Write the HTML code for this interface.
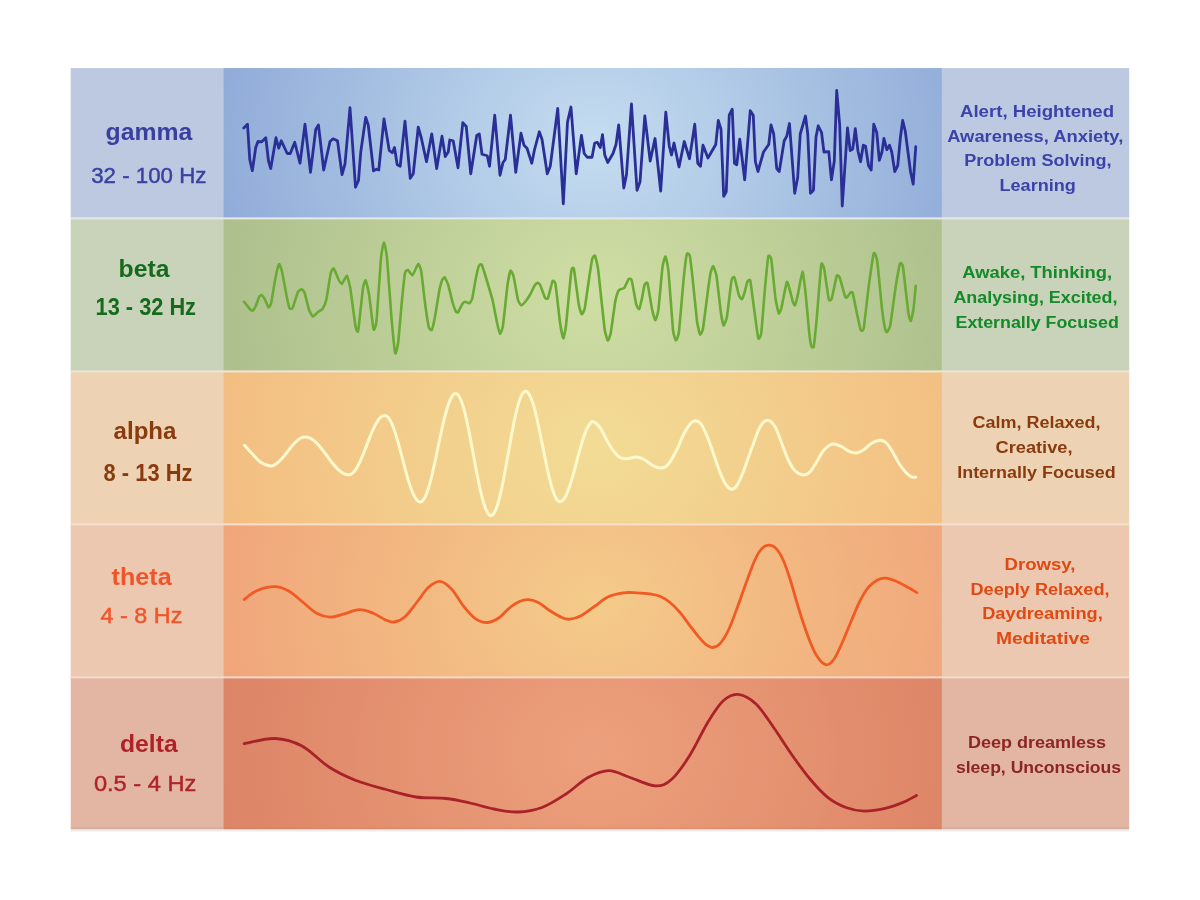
<!DOCTYPE html>
<html><head><meta charset="utf-8"><title>Brain waves</title>
<style>html,body{margin:0;padding:0;background:#fff;}body{width:1200px;height:900px;position:relative;overflow:hidden;font-family:"Liberation Sans",sans-serif;}</style></head>
<body>
<svg width="1200" height="900" viewBox="0 0 1200 900" style="position:absolute;left:0;top:0">
<defs>
<radialGradient id="g_gamma" gradientUnits="userSpaceOnUse" cx="0" cy="0" r="1" gradientTransform="translate(594.7,143.2) scale(385,330)"><stop offset="0" stop-color="#C5DDF0"/><stop offset="1" stop-color="#90ABD8"/></radialGradient>
<radialGradient id="g_beta" gradientUnits="userSpaceOnUse" cx="0" cy="0" r="1" gradientTransform="translate(594.7,294.9) scale(385,330)"><stop offset="0" stop-color="#CFDEA4"/><stop offset="1" stop-color="#ACBF8C"/></radialGradient>
<radialGradient id="g_alpha" gradientUnits="userSpaceOnUse" cx="0" cy="0" r="1" gradientTransform="translate(594.7,447.9) scale(385,330)"><stop offset="0" stop-color="#F2DC95"/><stop offset="1" stop-color="#F3BD82"/></radialGradient>
<radialGradient id="g_theta" gradientUnits="userSpaceOnUse" cx="0" cy="0" r="1" gradientTransform="translate(594.7,600.9) scale(385,330)"><stop offset="0" stop-color="#F4CB8A"/><stop offset="1" stop-color="#F0A57A"/></radialGradient>
<radialGradient id="g_delta" gradientUnits="userSpaceOnUse" cx="0" cy="0" r="1" gradientTransform="translate(594.7,753.5) scale(385,330)"><stop offset="0" stop-color="#EDA07C"/><stop offset="1" stop-color="#DC8466"/></radialGradient>
<filter id="softw" x="-2%" y="-5%" width="104%" height="110%" filterUnits="objectBoundingBox"><feGaussianBlur stdDeviation="0.6"/></filter>
<filter id="soft" x="-2%" y="-2%" width="104%" height="104%" filterUnits="objectBoundingBox"><feGaussianBlur stdDeviation="0.45"/></filter>
</defs>
<g filter="url(#soft)">
<rect x="70.7" y="68.1" width="1058.5" height="150.30" fill="#BCC9E1"/>
<rect x="223.6" y="68.1" width="718.1999999999999" height="150.30" fill="url(#g_gamma)"/>
<rect x="70.7" y="218.4" width="1058.5" height="153.00" fill="#C8D3BA"/>
<rect x="223.6" y="218.4" width="718.1999999999999" height="153.00" fill="url(#g_beta)"/>
<rect x="70.7" y="371.4" width="1058.5" height="153.00" fill="#EDD3B4"/>
<rect x="223.6" y="371.4" width="718.1999999999999" height="153.00" fill="url(#g_alpha)"/>
<rect x="70.7" y="524.4" width="1058.5" height="153.00" fill="#EBC8AF"/>
<rect x="223.6" y="524.4" width="718.1999999999999" height="153.00" fill="url(#g_theta)"/>
<rect x="70.7" y="677.4" width="1058.5" height="152.20" fill="#E3B5A3"/>
<rect x="223.6" y="677.4" width="718.1999999999999" height="152.20" fill="url(#g_delta)"/>
<rect x="70.7" y="217.40" width="1058.5" height="2.0" fill="#E6E9EA"/>
<rect x="70.7" y="370.40" width="1058.5" height="2.0" fill="#EFE6D8"/>
<rect x="70.7" y="523.40" width="1058.5" height="2.0" fill="#F7DFCF"/>
<rect x="70.7" y="676.40" width="1058.5" height="2.0" fill="#F3D9CC"/>
<rect x="70.7" y="827.3" width="1058.5" height="2.2" fill="#8a7f7f" fill-opacity="0.13"/>
<rect x="70.7" y="829.4" width="1058.5" height="2.1" fill="#EEEBEB"/>
</g>
<g fill="none" stroke-linecap="round" stroke-linejoin="round" stroke-width="2.5" filter="url(#softw)">
<path d="M243.75 128.00L247.50 124.25L249.75 159.50L252.30 170.75L255.75 147.50L258.00 141.50L261.75 141.80L265.80 137.75L268.50 161.00L270.75 168.50L276.00 137.75L278.70 148.25L281.25 140.75L287.25 153.50L290.25 153.50L294.75 142.25L300.00 163.25L305.00 124.25L310.50 172.25L315.75 129.50L318.45 125.00L323.70 170.00L330.00 141.50L333.00 138.80L337.50 140.75L342.00 174.50L345.00 164.00L350.00 107.75L355.50 187.25L358.50 180.50L360.75 152.00L365.70 117.50L368.25 125.00L373.50 170.75L376.50 169.25L378.75 170.00L384.00 119.00L389.25 150.50L392.25 152.75L394.50 147.50L397.20 164.75L400.20 166.25L405.00 121.25L410.25 178.25L413.25 173.75L418.25 127.25L421.25 137.75L426.50 161.75L431.75 134.00L436.70 168.50L442.00 136.25L445.25 156.50L448.25 152.00L449.75 140.00L453.20 140.75L458.00 167.75L462.80 122.75L466.25 126.50L470.75 173.75L476.75 135.50L479.30 134.00L482.00 154.25L487.25 155.75L489.50 166.25L494.75 115.25L500.00 175.25L503.00 162.50L505.25 159.50L510.50 115.25L515.75 172.25L521.00 133.25L524.00 145.25L527.00 148.25L531.80 163.25L534.50 149.75L539.30 131.75L542.00 139.25L547.25 173.75L550.25 166.25L557.75 108.50L563.30 203.75L567.50 122.00L570.95 107.00L576.20 173.75L581.45 135.50L584.20 153.50L587.20 157.25L592.00 157.25L594.70 143.00L597.25 142.25L600.25 147.50L602.50 134.75L604.75 155.00L607.75 162.50L613.00 153.50L616.00 144.50L618.70 125.00L623.80 188.00L626.50 174.50L631.45 104.00L637.00 190.25L640.00 182.00L644.80 116.00L650.20 161.00L655.00 138.50L660.70 191.00L665.80 112.25L669.25 146.00L671.50 155.00L674.00 143.00L679.00 167.00L684.25 141.50L689.50 158.75L694.75 124.25L697.75 163.25L700.45 166.25L703.00 145.25L707.95 158.00L715.75 144.50L718.30 120.50L721.00 129.50L723.70 196.25L726.25 191.75L729.25 115.25L732.25 109.25L734.50 163.25L736.75 164.75L739.75 139.25L744.70 179.75L750.25 110.75L753.25 115.25L755.40 161.75L757.95 171.50L763.50 152.00L768.75 144.50L771.00 125.00L773.70 134.00L776.70 168.50L779.25 171.50L784.20 140.75L786.75 136.25L789.45 123.50L794.70 193.25L797.70 177.50L800.25 134.00L805.50 116.00L807.75 134.00L810.45 193.25L813.45 190.25L816.00 137.00L818.25 125.75L821.55 132.50L823.95 152.00L828.75 151.70L831.45 179.75L834.30 161.00L836.70 90.50L839.70 125.00L842.25 206.00L847.50 128.00L850.20 150.50L852.75 149.00L855.30 128.75L858.00 151.25L860.55 161.75L863.25 145.25L865.50 146.00L868.50 165.50L871.20 170.00L873.75 124.25L876.75 132.50L879.30 160.25L882.00 152.00L883.95 138.50L886.80 149.75L889.50 145.25L891.75 152.00L894.75 171.50L897.75 165.50L900.45 137.00L902.70 120.50L905.25 131.00L910.50 171.50L913.20 184.25L915.75 146.75" stroke="#2B2E97" stroke-width="2.8"/>
<path d="M244.20 301.80C244.61 302.33 249.12 308.36 249.75 309.00C250.38 309.64 252.31 310.72 252.75 310.50C253.19 310.28 255.25 307.05 255.75 306.00C256.25 304.95 259.06 297.04 259.50 296.25C259.94 295.46 261.37 294.98 261.75 295.20C262.13 295.42 264.25 298.35 264.75 299.25C265.25 300.15 268.03 307.23 268.50 307.50C268.97 307.77 270.70 305.09 271.20 303.00C271.69 300.91 274.68 281.86 275.25 279.00C275.82 276.14 278.50 264.55 279.00 264.00C279.50 263.45 281.45 269.19 282.00 271.50C282.55 273.81 285.95 292.81 286.50 295.50C287.05 298.19 289.06 307.31 289.50 308.25C289.94 309.19 291.89 309.40 292.50 308.25C293.11 307.10 297.09 293.90 297.75 292.50C298.41 291.10 301.00 289.20 301.50 289.20C302.00 289.20 303.95 290.99 304.50 292.50C305.05 294.01 308.39 307.99 309.00 309.75C309.61 311.51 312.09 316.33 312.75 316.50C313.41 316.67 317.29 312.55 318.00 312.00C318.71 311.45 321.89 309.88 322.50 309.00C323.11 308.12 325.64 302.64 326.25 300.00C326.86 297.36 330.20 275.31 330.75 273.00C331.30 270.69 333.14 267.95 333.75 268.50C334.36 269.05 338.39 279.38 339.00 280.50C339.61 281.62 341.43 284.15 342.00 283.80C342.57 283.45 346.19 275.39 346.80 275.70C347.41 276.01 349.61 284.29 350.25 288.00C350.89 291.71 354.92 323.12 355.50 326.25C356.08 329.38 357.65 333.56 358.20 330.75C358.75 327.94 362.45 291.69 363.00 288.00C363.55 284.31 365.26 280.06 365.70 280.50C366.14 280.94 368.43 290.43 369.00 294.00C369.57 297.57 372.95 327.27 373.50 329.25C374.05 331.23 375.95 326.23 376.50 321.00C377.05 315.77 380.45 263.77 381.00 258.00C381.55 252.22 383.56 242.25 384.00 242.25C384.44 242.25 386.45 252.44 387.00 258.00C387.55 263.56 390.89 311.01 391.50 318.00C392.11 324.99 394.75 351.49 395.25 353.25C395.75 355.01 397.75 345.90 398.25 342.00C398.75 338.10 401.50 305.06 402.00 300.00C402.50 294.94 404.56 275.20 405.00 273.00C405.44 270.80 407.45 269.83 408.00 270.00C408.55 270.17 411.75 275.69 412.50 275.25C413.25 274.81 417.61 264.27 418.25 264.00C418.89 263.73 420.75 268.64 421.25 271.50C421.75 274.36 424.45 298.93 425.00 303.00C425.55 307.07 428.25 325.02 428.75 327.00C429.25 328.98 431.31 330.66 431.75 330.00C432.19 329.34 434.20 320.86 434.75 318.00C435.30 315.14 438.70 293.81 439.25 291.00C439.80 288.19 441.84 280.74 442.25 279.75C442.66 278.76 444.36 277.12 444.80 277.50C445.24 277.88 447.67 283.13 448.25 285.00C448.83 286.87 452.20 301.07 452.75 303.00C453.30 304.93 455.37 310.57 455.75 311.25C456.13 311.93 457.50 312.85 458.00 312.30C458.50 311.75 461.97 304.52 462.50 303.75C463.03 302.98 464.70 301.83 465.20 301.80C465.69 301.77 468.73 303.54 469.25 303.30C469.77 303.06 471.75 300.39 472.25 298.50C472.75 296.61 475.50 279.92 476.00 277.50C476.50 275.08 478.58 266.44 479.00 265.50C479.42 264.56 481.26 264.09 481.70 264.75C482.14 265.41 484.21 271.92 485.00 274.50C485.79 277.08 491.62 296.48 492.50 300.00C493.38 303.52 496.45 320.02 497.00 322.50C497.55 324.98 499.56 333.53 500.00 333.75C500.44 333.97 502.45 329.07 503.00 325.50C503.55 321.93 506.95 289.01 507.50 285.00C508.05 280.99 510.06 271.41 510.50 270.75C510.94 270.09 512.95 273.86 513.50 276.00C514.05 278.14 517.43 297.86 518.00 300.00C518.57 302.14 520.75 305.14 521.30 305.25C521.85 305.36 524.86 302.27 525.50 301.50C526.14 300.73 529.34 295.90 530.00 294.75C530.66 293.60 533.95 286.63 534.50 285.75C535.05 284.87 537.08 282.81 537.50 282.75C537.92 282.69 539.65 283.90 540.20 285.00C540.75 286.10 544.43 296.78 545.00 297.75C545.57 298.72 547.45 299.41 548.00 298.20C548.55 296.99 551.95 282.27 552.50 281.25C553.05 280.23 554.95 281.23 555.50 284.25C556.05 287.27 559.43 318.54 560.00 322.50C560.57 326.46 562.86 338.03 563.30 338.25C563.74 338.47 565.42 330.39 566.00 325.50C566.58 320.61 570.67 275.62 571.25 271.50C571.83 267.38 573.40 266.83 573.95 269.25C574.50 271.67 578.18 301.20 578.75 304.50C579.32 307.80 581.31 313.98 581.75 314.25C582.19 314.52 584.22 310.83 584.75 308.25C585.28 305.67 588.45 282.63 589.00 279.00C589.55 275.37 591.86 260.45 592.30 258.75C592.74 257.05 594.58 255.03 595.00 255.75C595.42 256.46 597.50 265.04 598.00 268.50C598.50 271.96 601.25 298.49 601.75 303.00C602.25 307.51 604.31 327.25 604.75 330.00C605.19 332.75 607.31 340.28 607.75 340.50C608.19 340.72 610.20 335.86 610.75 333.00C611.30 330.14 614.70 304.58 615.25 301.50C615.80 298.42 617.87 291.90 618.25 291.00C618.63 290.10 620.06 289.42 620.50 289.20C620.94 288.98 623.64 288.75 624.25 288.00C624.86 287.25 628.20 279.55 628.75 279.00C629.30 278.45 631.20 278.63 631.75 280.50C632.30 282.37 635.70 302.41 636.25 304.50C636.80 306.59 638.81 309.55 639.25 309.00C639.69 308.45 641.87 298.76 642.25 297.00C642.63 295.24 644.12 286.01 644.50 285.00C644.88 283.99 646.95 281.44 647.50 283.20C648.05 284.96 651.43 306.28 652.00 309.00C652.57 311.72 654.84 320.14 655.30 320.25C655.76 320.36 657.77 314.40 658.30 310.50C658.83 306.60 661.97 270.96 662.50 267.00C663.03 263.04 665.06 256.17 665.50 256.50C665.94 256.83 667.95 266.11 668.50 271.50C669.05 276.89 672.45 324.94 673.00 330.00C673.55 335.06 675.56 340.39 676.00 340.50C676.44 340.61 678.45 335.90 679.00 331.50C679.55 327.10 682.93 286.17 683.50 280.50C684.07 274.83 686.34 256.06 686.80 254.25C687.26 252.44 689.38 254.04 689.80 255.75C690.22 257.45 691.97 272.71 692.50 277.50C693.03 282.29 696.45 316.82 697.00 321.00C697.55 325.18 699.56 333.95 700.00 334.50C700.44 335.05 702.45 331.47 703.00 328.50C703.55 325.53 706.95 298.07 707.50 294.00C708.05 289.93 710.08 275.04 710.50 273.00C710.92 270.96 712.76 266.03 713.20 266.25C713.64 266.47 715.93 272.54 716.50 276.00C717.07 279.46 720.47 309.87 721.00 313.50C721.53 317.13 723.26 325.28 723.70 325.50C724.14 325.72 726.43 319.80 727.00 316.50C727.57 313.20 730.95 283.36 731.50 280.50C732.05 277.64 733.95 276.40 734.50 277.50C735.05 278.60 738.45 293.90 739.00 295.50C739.55 297.10 741.56 299.58 742.00 299.25C742.44 298.92 744.62 292.26 745.00 291.00C745.38 289.74 746.87 282.77 747.25 282.00C747.63 281.23 749.76 278.63 750.25 280.50C750.74 282.37 753.31 303.26 753.90 307.50C754.49 311.74 757.71 336.38 758.25 338.25C758.79 340.12 760.75 336.69 761.25 333.00C761.75 329.31 764.48 293.61 765.00 288.00C765.52 282.39 767.84 258.59 768.30 256.50C768.76 254.41 770.77 256.42 771.30 259.50C771.83 262.58 774.95 294.54 775.50 298.50C776.05 302.46 778.36 312.84 778.80 313.50C779.24 314.16 780.92 309.81 781.50 307.50C782.08 305.19 786.18 283.43 786.75 282.00C787.32 280.57 788.86 286.57 789.30 288.00C789.74 289.43 792.33 300.24 792.75 301.50C793.17 302.76 794.62 305.80 795.00 305.25C795.38 304.70 797.45 296.48 798.00 294.00C798.55 291.52 801.95 271.61 802.50 271.50C803.05 271.39 805.00 287.99 805.50 292.50C806.00 297.01 808.83 329.10 809.25 333.00C809.67 336.90 810.87 344.76 811.20 345.75C811.53 346.74 813.34 348.54 813.75 346.50C814.16 344.46 816.20 324.00 816.75 318.00C817.30 312.00 820.70 268.32 821.25 264.75C821.80 261.18 823.70 266.72 824.25 269.25C824.80 271.78 828.20 297.11 828.75 299.25C829.30 301.39 831.17 300.20 831.75 298.50C832.33 296.80 836.12 277.54 836.70 276.00C837.28 274.46 839.07 275.96 839.70 277.50C840.33 279.04 844.68 295.59 845.25 297.00C845.82 298.41 847.12 297.03 847.50 296.70C847.88 296.37 850.12 292.75 850.50 292.50C850.88 292.25 852.25 291.60 852.75 293.25C853.25 294.90 856.67 312.31 857.25 315.00C857.83 317.69 860.23 329.01 860.70 330.00C861.17 330.99 863.13 331.58 863.70 328.50C864.27 325.42 867.76 293.50 868.50 288.00C869.24 282.50 873.11 255.48 873.75 253.50C874.39 251.52 876.60 256.93 877.20 261.00C877.81 265.07 881.43 304.05 882.00 309.00C882.57 313.95 884.65 326.80 885.00 328.50C885.35 330.20 886.41 332.47 886.80 332.25C887.18 332.03 889.61 328.75 890.25 325.50C890.89 322.25 894.78 292.53 895.50 288.00C896.22 283.47 899.45 265.24 900.00 263.70C900.55 262.16 902.39 263.46 903.00 267.00C903.61 270.54 907.68 308.04 908.25 312.00C908.82 315.96 910.41 321.22 910.80 321.00C911.18 320.78 913.14 311.58 913.50 309.00C913.86 306.42 915.59 287.45 915.75 285.75" stroke="#68AA32" stroke-width="2.6"/>
<path d="M244.50 445.25C245.75 446.62 249.25 450.62 252.00 453.50C254.75 456.38 258.00 460.42 261.00 462.50C264.00 464.58 267.91 465.53 270.00 466.00C272.09 466.47 272.35 465.75 273.52 465.29C274.70 464.83 275.88 464.11 277.05 463.23C278.23 462.35 279.40 461.23 280.57 460.02C281.75 458.81 282.93 457.40 284.10 455.98C285.28 454.56 286.45 452.99 287.62 451.50C288.80 450.01 289.97 448.44 291.15 447.02C292.32 445.60 293.50 444.19 294.68 442.98C295.85 441.77 297.02 440.65 298.20 439.77C299.38 438.89 300.55 438.17 301.73 437.71C302.90 437.25 303.94 436.96 305.25 437.00C306.56 437.04 308.15 437.32 309.60 437.93C311.05 438.53 312.50 439.47 313.95 440.61C315.40 441.75 316.85 443.22 318.30 444.79C319.75 446.37 321.20 448.21 322.65 450.06C324.10 451.91 325.55 453.95 327.00 455.90C328.45 457.85 329.90 459.89 331.35 461.74C332.80 463.59 334.25 465.43 335.70 467.01C337.15 468.58 338.60 470.05 340.05 471.19C341.50 472.33 342.95 473.27 344.40 473.87C345.85 474.48 347.43 474.89 348.75 474.80C350.07 474.71 351.15 474.29 352.35 473.35C353.55 472.40 354.75 470.93 355.95 469.13C357.15 467.33 358.35 465.03 359.55 462.56C360.75 460.08 361.95 457.19 363.15 454.28C364.35 451.37 365.55 448.16 366.75 445.10C367.95 442.04 369.15 438.83 370.35 435.92C371.55 433.01 372.75 430.12 373.95 427.64C375.15 425.17 376.35 422.87 377.55 421.07C378.75 419.27 379.95 417.80 381.15 416.85C382.35 415.91 383.56 415.29 384.75 415.40C385.94 415.51 387.11 416.14 388.30 417.52C389.48 418.90 390.66 421.05 391.84 423.67C393.02 426.29 394.20 429.64 395.38 433.25C396.57 436.86 397.75 441.08 398.93 445.32C400.11 449.56 401.29 454.24 402.48 458.70C403.66 463.16 404.84 467.84 406.02 472.08C407.20 476.32 408.38 480.54 409.56 484.15C410.75 487.76 411.93 491.11 413.11 493.73C414.29 496.35 415.47 498.50 416.65 499.88C417.84 501.26 419.02 502.09 420.20 502.00C421.38 501.91 422.57 501.07 423.75 499.34C424.93 497.62 426.12 494.92 427.30 491.64C428.48 488.35 429.67 484.16 430.85 479.64C432.03 475.12 433.22 469.83 434.40 464.51C435.58 459.20 436.77 453.34 437.95 447.75C439.13 442.16 440.32 436.30 441.50 430.99C442.68 425.67 443.87 420.38 445.05 415.86C446.23 411.34 447.42 407.15 448.60 403.86C449.78 400.58 450.97 397.88 452.15 396.16C453.33 394.43 454.52 393.44 455.70 393.50C456.88 393.56 458.05 394.54 459.23 396.49C460.41 398.43 461.58 401.46 462.76 405.16C463.94 408.86 465.11 413.58 466.29 418.67C467.47 423.75 468.64 429.70 469.82 435.68C471.00 441.67 472.17 448.26 473.35 454.55C474.53 460.84 475.70 467.43 476.88 473.42C478.06 479.40 479.23 485.35 480.41 490.43C481.59 495.52 482.76 500.24 483.94 503.94C485.12 507.64 486.29 510.67 487.47 512.61C488.65 514.56 489.84 515.61 491.00 515.60C492.16 515.59 493.30 514.54 494.45 512.56C495.60 510.58 496.75 507.49 497.90 503.73C499.05 499.97 500.20 495.16 501.35 489.98C502.50 484.80 503.65 478.74 504.80 472.66C505.95 466.57 507.10 459.85 508.25 453.45C509.40 447.05 510.55 440.33 511.70 434.24C512.85 428.16 514.00 422.10 515.15 416.92C516.30 411.74 517.45 406.93 518.60 403.17C519.75 399.41 520.90 396.32 522.05 394.34C523.20 392.36 524.35 391.36 525.50 391.30C526.65 391.24 527.80 392.25 528.95 394.00C530.10 395.76 531.25 398.51 532.40 401.85C533.55 405.20 534.70 409.47 535.85 414.07C537.00 418.68 538.15 424.06 539.30 429.48C540.45 434.89 541.60 440.86 542.75 446.55C543.90 452.24 545.05 458.21 546.20 463.62C547.35 469.04 548.50 474.42 549.65 479.03C550.80 483.63 551.95 487.90 553.10 491.25C554.25 494.59 555.40 497.34 556.55 499.10C557.70 500.85 558.87 501.68 560.00 501.80C561.13 501.92 562.22 501.11 563.33 499.84C564.44 498.57 565.55 496.58 566.66 494.15C567.77 491.73 568.88 488.63 569.99 485.29C571.10 481.95 572.21 478.05 573.32 474.13C574.43 470.20 575.54 465.88 576.65 461.75C577.76 457.62 578.87 453.30 579.98 449.37C581.09 445.45 582.20 441.55 583.31 438.21C584.42 434.87 585.53 431.77 586.64 429.35C587.75 426.92 588.86 424.93 589.97 423.66C591.08 422.39 591.63 421.06 593.30 421.70C594.97 422.34 597.77 424.45 600.00 427.50C602.23 430.55 604.48 436.12 606.70 440.00C608.92 443.88 611.08 447.88 613.30 450.80C615.52 453.72 617.77 456.17 620.00 457.50C622.23 458.83 624.48 458.80 626.70 458.80C628.92 458.80 631.37 457.77 633.30 457.50C635.23 457.23 636.35 456.78 638.30 457.20C640.25 457.62 642.50 458.57 645.00 460.00C647.50 461.43 650.52 464.47 653.30 465.80C656.08 467.13 659.20 468.27 661.70 468.00C664.20 467.73 665.80 467.20 668.30 464.20C670.80 461.20 674.20 454.87 676.70 450.00C679.20 445.13 681.08 439.30 683.30 435.00C685.52 430.70 687.92 426.57 690.00 424.20C692.08 421.83 693.85 420.67 695.80 420.80C697.75 420.93 699.62 421.93 701.70 425.00C703.78 428.07 706.08 433.65 708.30 439.20C710.52 444.75 712.77 452.05 715.00 458.30C717.23 464.55 719.75 472.12 721.70 476.70C723.65 481.28 725.03 483.72 726.70 485.80C728.37 487.88 730.03 489.20 731.70 489.20C733.37 489.20 734.77 488.72 736.70 485.80C738.63 482.88 740.80 477.95 743.30 471.70C745.80 465.45 748.92 455.75 751.70 448.30C754.48 440.85 757.37 431.67 760.00 427.00C762.63 422.33 765.00 420.35 767.50 420.30C770.00 420.25 772.63 422.87 775.00 426.70C777.37 430.53 779.48 437.75 781.70 443.30C783.92 448.85 786.08 455.42 788.30 460.00C790.52 464.58 792.50 468.30 795.00 470.80C797.50 473.30 800.80 474.85 803.30 475.00C805.80 475.15 807.77 473.92 810.00 471.70C812.23 469.48 814.48 465.18 816.70 461.70C818.92 458.22 821.08 453.58 823.30 450.80C825.52 448.02 828.05 446.10 830.00 445.00C831.95 443.90 833.05 443.92 835.00 444.20C836.95 444.48 839.48 445.60 841.70 446.70C843.92 447.80 845.95 449.75 848.30 450.80C850.65 451.85 853.30 453.13 855.80 453.00C858.30 452.87 860.65 451.62 863.30 450.00C865.95 448.38 868.92 444.92 871.70 443.30C874.48 441.68 877.50 440.30 880.00 440.30C882.50 440.30 884.48 441.13 886.70 443.30C888.92 445.47 891.08 449.68 893.30 453.30C895.52 456.92 897.77 461.67 900.00 465.00C902.23 468.33 904.75 471.30 906.70 473.30C908.65 475.30 910.18 476.35 911.70 477.00C913.22 477.65 915.12 477.17 915.80 477.20" stroke="#FEF9CC" stroke-width="3"/>
<path d="M244.20 599.50C246.28 598.05 251.70 592.93 256.70 590.80C261.70 588.67 268.93 586.70 274.20 586.70C279.47 586.70 283.45 588.17 288.30 590.80C293.15 593.43 298.57 598.75 303.30 602.50C308.03 606.25 312.25 610.85 316.70 613.30C321.15 615.75 325.57 617.05 330.00 617.20C334.43 617.35 338.43 615.45 343.30 614.20C348.17 612.95 354.20 609.85 359.20 609.70C364.20 609.55 369.00 611.63 373.30 613.30C377.60 614.97 381.52 618.25 385.00 619.70C388.48 621.15 390.87 622.50 394.20 622.00C397.53 621.50 401.25 619.95 405.00 616.70C408.75 613.45 412.82 607.37 416.70 602.50C420.58 597.63 424.42 591.03 428.30 587.50C432.18 583.97 436.10 581.02 440.00 581.30C443.90 581.58 447.82 585.12 451.70 589.20C455.58 593.28 459.42 600.95 463.30 605.80C467.18 610.65 471.10 615.52 475.00 618.30C478.90 621.08 482.82 622.50 486.70 622.50C490.58 622.50 494.42 620.80 498.30 618.30C502.18 615.80 506.38 610.33 510.00 607.50C513.62 604.67 516.95 602.60 520.00 601.30C523.05 600.00 525.25 599.50 528.30 599.70C531.35 599.90 534.68 600.65 538.30 602.50C541.92 604.35 546.10 608.30 550.00 610.80C553.90 613.30 558.37 616.10 561.70 617.50C565.03 618.90 566.70 619.53 570.00 619.20C573.30 618.87 577.33 617.70 581.50 615.50C585.67 613.30 590.53 609.12 595.00 606.00C599.47 602.88 603.58 599.00 608.30 596.80C613.02 594.60 618.57 593.47 623.30 592.80C628.03 592.13 632.25 592.63 636.70 592.80C641.15 592.97 646.12 593.22 650.00 593.80C653.88 594.38 656.67 594.85 660.00 596.30C663.33 597.75 666.67 599.80 670.00 602.50C673.33 605.20 676.67 608.62 680.00 612.50C683.33 616.38 686.67 621.50 690.00 625.80C693.33 630.10 697.22 635.10 700.00 638.30C702.78 641.50 704.62 643.47 706.70 645.00C708.78 646.53 710.28 647.73 712.50 647.50C714.72 647.27 717.33 646.52 720.00 643.60C722.67 640.68 725.58 636.10 728.50 630.00C731.42 623.90 734.54 614.92 737.50 607.00C740.46 599.08 743.33 590.38 746.25 582.50C749.17 574.62 752.38 565.43 755.00 559.75C757.62 554.07 759.67 550.82 762.00 548.40C764.33 545.98 766.67 545.20 769.00 545.20C771.33 545.20 773.67 545.98 776.00 548.40C778.33 550.82 780.67 554.65 783.00 559.75C785.33 564.85 787.38 570.83 790.00 579.00C792.62 587.17 795.83 599.42 798.75 608.75C801.67 618.08 804.58 627.27 807.50 635.00C810.42 642.73 813.18 650.14 816.25 655.10C819.32 660.06 822.98 664.02 825.90 664.75C828.82 665.48 830.98 663.29 833.75 659.50C836.52 655.71 839.58 648.42 842.50 642.00C845.42 635.58 848.33 627.85 851.25 621.00C854.17 614.15 857.08 606.58 860.00 600.90C862.92 595.22 865.83 590.40 868.75 586.90C871.67 583.40 874.73 581.37 877.50 579.90C880.27 578.43 882.48 577.96 885.40 578.10C888.32 578.24 891.65 579.43 895.00 580.75C898.35 582.07 901.85 584.02 905.50 586.00C909.15 587.98 915.00 591.54 916.90 592.65" stroke="#F15A24" stroke-width="2.8"/>
<path d="M244.10 743.60C249.25 742.75 265.35 738.10 275.00 738.50C284.65 738.90 293.00 741.25 302.00 746.00C311.00 750.75 320.00 761.25 329.00 767.00C338.00 772.75 346.50 776.75 356.00 780.50C365.50 784.25 376.00 786.75 386.00 789.50C396.00 792.25 406.00 795.50 416.00 797.00C426.00 798.50 437.00 797.50 446.00 798.50C455.00 799.50 462.00 801.25 470.00 803.00C478.00 804.75 486.00 807.50 494.00 809.00C502.00 810.50 510.00 812.25 518.00 812.00C526.00 811.75 534.00 810.50 542.00 807.50C550.00 804.50 558.33 799.00 566.00 794.00C573.67 789.00 580.83 781.40 588.00 777.50C595.17 773.60 602.00 770.60 609.00 770.60C616.00 770.60 622.25 774.95 630.00 777.50C637.75 780.05 648.50 785.65 655.50 785.90C662.50 786.15 666.25 784.15 672.00 779.00C677.75 773.85 684.00 764.50 690.00 755.00C696.00 745.50 702.50 731.00 708.00 722.00C713.50 713.00 718.00 705.60 723.00 701.00C728.00 696.40 732.50 693.90 738.00 694.40C743.50 694.90 750.00 698.40 756.00 704.00C762.00 709.60 768.00 719.50 774.00 728.00C780.00 736.50 786.00 746.50 792.00 755.00C798.00 763.50 804.00 771.90 810.00 779.00C816.00 786.10 822.00 792.85 828.00 797.60C834.00 802.35 840.00 805.25 846.00 807.50C852.00 809.75 857.50 810.95 864.00 811.10C870.50 811.25 878.50 809.85 885.00 808.40C891.50 806.95 897.75 804.55 903.00 802.40C908.25 800.25 914.25 796.65 916.50 795.50" stroke="#A92329" stroke-width="2.8"/>
</g>
<g font-family="'Liberation Sans', sans-serif" filter="url(#soft)">
<text x="105.6" y="140.0" font-size="24" font-weight="bold" fill="#3A40A0" textLength="86.8" lengthAdjust="spacingAndGlyphs">gamma</text>
<text x="91.2" y="183.0" font-size="22.2" font-weight="normal" fill="#3A40A0" stroke="#3A40A0" stroke-width="0.45" textLength="115.2" lengthAdjust="spacingAndGlyphs">32 - 100 Hz</text>
<text x="118.6" y="277.0" font-size="24" font-weight="bold" fill="#176B1E" textLength="50.8" lengthAdjust="spacingAndGlyphs">beta</text>
<text x="95.6" y="315.0" font-size="23.3" font-weight="bold" fill="#176B1E" textLength="100.4" lengthAdjust="spacingAndGlyphs">13 - 32 Hz</text>
<text x="113.6" y="439.3" font-size="24" font-weight="bold" fill="#8A3A10" textLength="62.8" lengthAdjust="spacingAndGlyphs">alpha</text>
<text x="103.6" y="481.0" font-size="23.6" font-weight="bold" fill="#8A3A10" textLength="88.8" lengthAdjust="spacingAndGlyphs">8 - 13 Hz</text>
<text x="111.6" y="585.0" font-size="24" font-weight="bold" fill="#F0552A" textLength="60.1" lengthAdjust="spacingAndGlyphs">theta</text>
<text x="100.6" y="623.0" font-size="22.2" font-weight="normal" fill="#F0552A" stroke="#F0552A" stroke-width="0.45" textLength="81.8" lengthAdjust="spacingAndGlyphs">4 - 8 Hz</text>
<text x="120.0" y="751.6" font-size="24" font-weight="bold" fill="#B0242A" textLength="57.7" lengthAdjust="spacingAndGlyphs">delta</text>
<text x="93.9" y="790.7" font-size="22.5" font-weight="normal" fill="#B0242A" stroke="#B0242A" stroke-width="0.45" textLength="102.5" lengthAdjust="spacingAndGlyphs">0.5 - 4 Hz</text>
<text x="960.0" y="116.7" font-size="17.2" font-weight="bold" fill="#3B43A9" textLength="154.1" lengthAdjust="spacingAndGlyphs">Alert, Heightened</text>
<text x="947.2" y="141.7" font-size="17.2" font-weight="bold" fill="#3B43A9" textLength="176.1" lengthAdjust="spacingAndGlyphs">Awareness, Anxiety,</text>
<text x="964.2" y="165.8" font-size="17.2" font-weight="bold" fill="#3B43A9" textLength="147.4" lengthAdjust="spacingAndGlyphs">Problem Solving,</text>
<text x="999.5" y="190.8" font-size="17.2" font-weight="bold" fill="#3B43A9" textLength="76.3" lengthAdjust="spacingAndGlyphs">Learning</text>
<text x="962.2" y="278.0" font-size="17.2" font-weight="bold" fill="#128A28" textLength="149.9" lengthAdjust="spacingAndGlyphs">Awake, Thinking,</text>
<text x="953.4" y="303.3" font-size="17.2" font-weight="bold" fill="#128A28" textLength="164.1" lengthAdjust="spacingAndGlyphs">Analysing, Excited,</text>
<text x="955.5" y="327.5" font-size="17.2" font-weight="bold" fill="#128A28" textLength="163.3" lengthAdjust="spacingAndGlyphs">Externally Focused</text>
<text x="972.5" y="428.0" font-size="17.2" font-weight="bold" fill="#8A3A10" textLength="128.0" lengthAdjust="spacingAndGlyphs">Calm, Relaxed,</text>
<text x="995.5" y="453.3" font-size="17.2" font-weight="bold" fill="#8A3A10" textLength="77.0" lengthAdjust="spacingAndGlyphs">Creative,</text>
<text x="957.2" y="477.5" font-size="17.2" font-weight="bold" fill="#8A3A10" textLength="158.6" lengthAdjust="spacingAndGlyphs">Internally Focused</text>
<text x="1004.5" y="569.7" font-size="17.2" font-weight="bold" fill="#E04A12" textLength="71.0" lengthAdjust="spacingAndGlyphs">Drowsy,</text>
<text x="970.5" y="594.7" font-size="17.2" font-weight="bold" fill="#E04A12" textLength="139.0" lengthAdjust="spacingAndGlyphs">Deeply Relaxed,</text>
<text x="982.2" y="618.7" font-size="17.2" font-weight="bold" fill="#E04A12" textLength="120.6" lengthAdjust="spacingAndGlyphs">Daydreaming,</text>
<text x="995.9" y="643.7" font-size="17.2" font-weight="bold" fill="#E04A12" textLength="94.1" lengthAdjust="spacingAndGlyphs">Meditative</text>
<text x="967.9" y="748.3" font-size="17.2" font-weight="bold" fill="#8C2522" textLength="138.2" lengthAdjust="spacingAndGlyphs">Deep dreamless</text>
<text x="955.9" y="773.3" font-size="17.2" font-weight="bold" fill="#8C2522" textLength="165.2" lengthAdjust="spacingAndGlyphs">sleep, Unconscious</text>
</g>
</svg>
</body></html>
